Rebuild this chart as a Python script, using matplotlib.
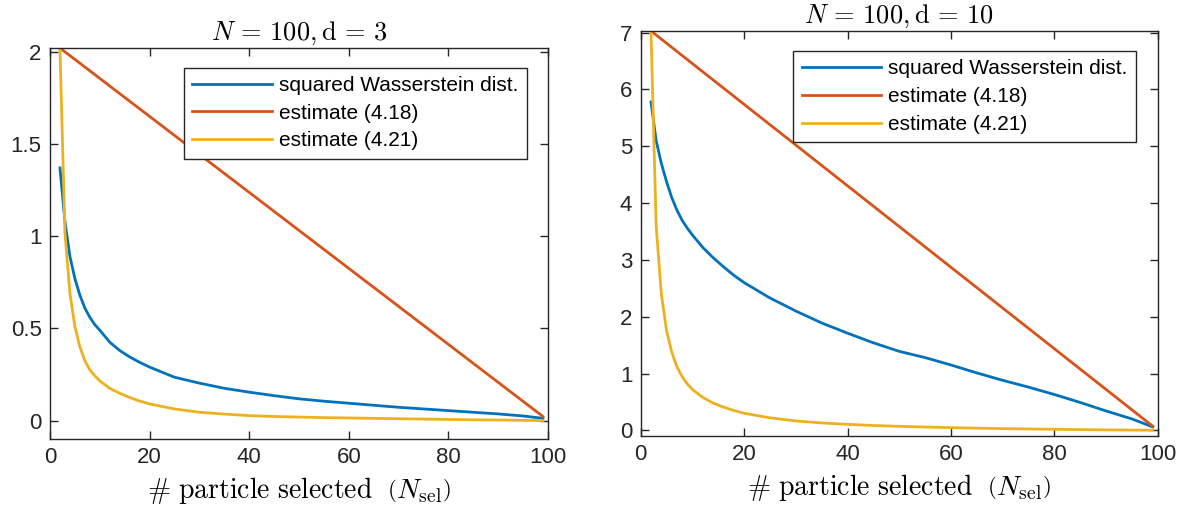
import numpy as np
import matplotlib
matplotlib.use("Agg")
from matplotlib import pyplot as plt
from matplotlib.ticker import FormatStrFormatter

plt.rcParams['font.family'] = 'Liberation Sans'
plt.rcParams['mathtext.fontset'] = 'cm'

# number of selected particles where the curves are sampled
n_sel = [2, 3, 4, 5, 6, 7, 8, 9, 10, 12, 14, 16, 18, 20, 25, 30, 35, 40, 45,
         50, 55, 60, 65, 70, 75, 80, 85, 90, 95, 99]

# d = 3
w2_d3 = [1.37, 1.08, 0.89, 0.77, 0.68, 0.61, 0.56, 0.52, 0.49, 0.425, 0.38,
         0.345, 0.316, 0.29, 0.235, 0.203, 0.175, 0.154, 0.135, 0.118, 0.105,
         0.094, 0.083, 0.072, 0.063, 0.054, 0.045, 0.036, 0.025, 0.012]
est421_d3 = [2.02, 1.02, 0.69, 0.51, 0.40, 0.325, 0.275, 0.243, 0.215, 0.175,
             0.148, 0.125, 0.106, 0.09, 0.063, 0.045, 0.035, 0.027, 0.022,
             0.019, 0.016, 0.014, 0.012, 0.01, 0.008, 0.006, 0.004, 0.003,
             0.001, 0.0]
est418_n_d3 = [2, 99]
est418_d3 = [2.02, 0.022]

# d = 10
w2_d10 = [5.78, 5.10, 4.70, 4.38, 4.10, 3.88, 3.70, 3.56, 3.44, 3.22, 3.04,
          2.88, 2.73, 2.60, 2.33, 2.10, 1.89, 1.71, 1.54, 1.39, 1.28, 1.15,
          1.01, 0.88, 0.76, 0.63, 0.49, 0.34, 0.20, 0.06]
est421_d10 = [7.03, 3.60, 2.40, 1.76, 1.38, 1.12, 0.95, 0.82, 0.72, 0.58, 0.48,
              0.41, 0.35, 0.30, 0.22, 0.165, 0.13, 0.105, 0.085, 0.07, 0.058,
              0.047, 0.038, 0.03, 0.024, 0.018, 0.012, 0.008, 0.004, 0.001]
est418_n_d10 = [2, 99]
est418_d10 = [7.03, 0.072]

c_blue, c_red, c_yel = '#0072BD', '#D95319', '#EDB120'
dark = '#262626'

fig = plt.figure(figsize=(11.93, 5.18), dpi=100)
ax1 = fig.add_axes([0.0419, 0.1525, 0.4174, 0.7548])
ax2 = fig.add_axes([0.537, 0.1583, 0.4336, 0.7819])

panels = [
    (ax1, w2_d3, est418_n_d3, est418_d3, est421_d3, 3, (-0.1, 2.02), [0, 0.5, 1, 1.5, 2], (0.957, 0.950)),
    (ax2, w2_d10, est418_n_d10, est418_d10, est421_d10, 10, (-0.1, 7.03), range(0, 8), (0.9575, 0.9506)),
]

for ax, w2, n418, e418, e421, d, ylim, yt, anchor in panels:
    ax.plot(n_sel, w2, color=c_blue, lw=2, label='squared Wasserstein dist.')
    ax.plot(n418, e418, color=c_red, lw=2, label='estimate (4.18)')
    ax.plot(n_sel, e421, color=c_yel, lw=2, label='estimate (4.21)')

    ax.set_xlim(0, 100)
    ax.set_ylim(*ylim)
    ax.set_xticks(range(0, 101, 20))
    ax.set_yticks(list(yt))
    ax.yaxis.set_major_formatter(FormatStrFormatter('%g'))
    ax.tick_params(direction='in', top=True, right=True, length=6, width=1,
                   colors=dark, labelsize=16, pad=6)
    for sp in ax.spines.values():
        sp.set_color(dark)
        sp.set_linewidth(1)

    ax.set_title(r'$N\,=\,100, \mathrm{d}\,=\,%d$' % d, fontsize=19, pad=6)
    ax.set_xlabel(r'$\#\ \mathrm{particle\ selected}\ \ \left(N_{\mathrm{sel}}\right)$',
                  fontsize=20, labelpad=5)

    leg = ax.legend(loc='upper right', bbox_to_anchor=anchor, borderaxespad=0,
                    fontsize=15, handlelength=3.8, handletextpad=0.35,
                    labelspacing=0.42, borderpad=0.4, fancybox=False,
                    framealpha=1, edgecolor=dark)
    leg.get_frame().set_linewidth(1)

plt.savefig('out.png', dpi=100)
